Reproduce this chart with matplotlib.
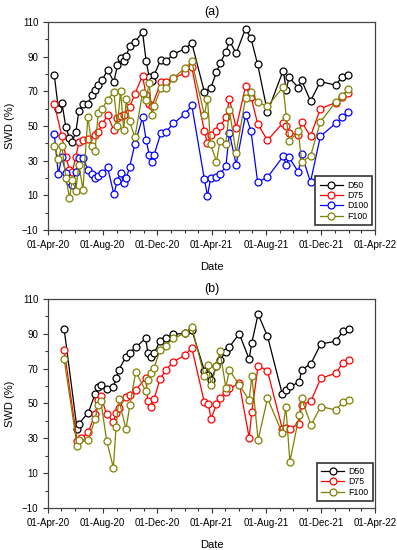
import matplotlib
matplotlib.use('Agg')
import matplotlib.pyplot as plt
import matplotlib.dates as mdates
from matplotlib.ticker import MultipleLocator
import pandas as pd

plt.rcParams['font.family'] = ['Liberation Sans', 'DejaVu Sans']

START = '2020-04-01'
END = '2022-04-01'

# ---------------- Panel (a) ----------------
# sampling day = days since 01-Apr-2020
a_d50_days = [14, 23, 31, 40, 48, 54, 62, 69, 78, 89, 98, 105, 112, 121, 133, 147, 155, 162, 169, 175,
              182, 194, 211, 219, 226, 232, 237, 252, 263, 280, 306, 321, 349, 363, 376, 384, 397, 405, 420, 441,
              453, 468, 490, 525, 532, 538, 559, 566, 586, 608, 642, 657, 670]
a_d50 = [79.6, 60, 63.3, 49.2, 43, 40.8, 46.5, 58.5, 62.7, 62.7, 67.7, 71, 73.5, 76.4, 82.5, 75.4, 85, 89.2, 87.7, 90.6,
         96, 98.5, 104.2, 87.7, 78, 76.1, 79.6, 88.3, 87.3, 91.5, 94.6, 97.9, 69.7, 71.7, 81, 86.2, 92.5, 99.2, 91.9, 106.2,
         100.6, 85.6, 58, 82, 70.9, 78.1, 72.1, 76.5, 64.4, 75.6, 73.6, 78.4, 79.6]

a_d75_days = [14, 31, 40, 48, 54, 62, 69, 78, 89, 105, 112, 121, 133, 147, 155, 162, 169, 182, 194, 211,
              219, 226, 232, 252, 263, 280, 306, 321, 349, 356, 363, 376, 384, 397, 405, 420, 441, 453, 468, 490,
              525, 532, 538, 559, 566, 586, 608, 642, 657, 670]
a_d75 = [62.9, 44, 32, 24.8, 23.5, 32, 40.8, 42.1, 42.7, 45, 46.5, 51.1, 56.2, 47.5, 54.6, 55.6, 56.5, 60.8, 68.5, 79,
         67.7, 62.7, 61.3, 75.4, 75.4, 77.7, 80.6, 83.9, 47, 40, 44.6, 47.3, 49.8, 55, 65.6, 48.8, 72.9, 67, 51.3, 41.7,
         52, 50, 46, 45, 52.5, 44, 60, 63.5, 66.5, 69]

a_d100_days = [14, 23, 31, 40, 48, 54, 62, 69, 78, 89, 98, 105, 112, 121, 133, 147, 155, 162, 169, 175,
               182, 194, 211, 219, 226, 232, 237, 252, 263, 280, 306, 321, 349, 356, 363, 376, 384, 397, 405, 420,
               441, 453, 468, 490, 525, 532, 538, 559, 566, 586, 608, 642, 657, 670]
a_d100 = [45.4, 22.5, 31.9, 23, 18, 16.1, 23.5, 31.5, 31.5, 24.8, 22.3, 20, 21, 22.9, 26.2, 10.8, 18.4, 22.9, 17.1, 20,
          26.2, 39.6, 55, 42.1, 33.4, 29.2, 33.4, 46, 46.5, 51.5, 56.9, 61.9, 19.4, 9.8, 19.8, 20.4, 22.3, 26.7, 46, 27.7,
          56.5, 47.3, 17.7, 20.4, 32.5, 27.7, 31.9, 23.5, 33.8, 17.7, 44, 51.5, 55, 57.9]

a_f100_days = [14, 23, 31, 40, 48, 54, 62, 69, 78, 89, 98, 105, 112, 121, 133, 147, 155, 162, 169, 175,
               182, 194, 211, 219, 226, 232, 237, 252, 263, 280, 306, 321, 349, 356, 363, 376, 384, 397, 405, 420,
               441, 453, 468, 490, 525, 532, 538, 559, 566, 586, 608, 642, 657, 670]
a_f100 = [38.6, 31.1, 38.6, 20, 8.4, 19, 12.7, 27.7, 13.2, 55.4, 38.6, 35.7, 57.3, 60, 65.2, 69.6, 49.8, 70.4, 47.9, 65.7,
          52.7, 43.5, 69, 65.2, 74.8, 56.5, 61.5, 71.9, 71.9, 77.7, 83.5, 87.3, 56.6, 65.7, 39.6, 29.5, 41.2, 39.8, 59, 34.3,
          66.1, 69.4, 63.6, 61.4, 72.5, 55, 41.1, 47, 29.5, 32.6, 52.3, 63.7, 67.5, 71.3]

# ---------------- Panel (b) ----------------
b_days = [36, 65, 69, 90, 105, 112, 118, 131, 146, 152, 158, 174, 183, 196, 218, 223, 230, 237, 250, 263,
          280, 306, 321, 349, 358, 364, 376, 384, 397, 405, 427, 449, 455, 469, 490, 523, 531, 540, 561, 566,
          587, 609, 642, 659, 671]
b_d50 = [92.8, 35.2, 38.4, 44.8, 55.3, 59.6, 60.6, 58.3, 59.6, 64.5, 69.2, 76.9, 79.2, 82.3, 87.4, 78.8, 76.5, 78.8, 85.9, 87.4,
         89.7, 90.3, 92.2, 68.9, 66.6, 63.4, 71.3, 75, 79.8, 82.5, 90, 75.5, 84.9, 101.2, 88.6, 55.4, 57.7, 59.9, 62.2, 69.2,
         72.9, 84.2, 85.7, 91.6, 92.7]
b_d75_days = [36, 65, 74, 90, 105, 112, 118, 131, 146, 152, 158, 174, 183, 196, 218, 223, 230, 237, 250, 263,
              280, 306, 321, 349, 358, 364, 376, 384, 397, 405, 427, 449, 455, 469, 490, 523, 531, 540, 561, 566,
              587, 609, 642, 659, 671]
b_d75 = [80.7, 28.5, 30, 33.5, 43.8, 52, 54.3, 43.8, 39.5, 44.4, 47.2, 53.9, 54.9, 57.8, 64.5, 51.4, 48.2, 52.6, 63.9, 69.2,
         74, 77.8, 82, 50.7, 49.6, 41.1, 49.5, 53.3, 56.4, 58.7, 61.6, 30.4, 45.3, 71.7, 68.7, 35.6, 36.2, 35.6, 38.4, 49.1,
         51.4, 64.5, 67.3, 73.4, 75]
b_f100 = [75.5, 25.7, 29, 29.2, 40.9, 49.1, 51.4, 28.5, 13.1, 36.7, 52.6, 35.2, 49.3, 68.3, 57.2, 63.5, 67.3, 70.5, 80.7, 83.2,
          87.4, 90.3, 94.1, 65.6, 72, 60.8, 71.6, 79.9, 59.1, 69.2, 60.6, 52, 65.9, 29, 53, 32.9, 48.2, 16.6, 43.4, 53,
          37.6, 48.2, 46.3, 50.7, 52]

colors = {'D50': 'black', 'D75': '#ff0000', 'D100': '#0000ff', 'F100': '#808000'}
ytick_vals = [-10, 10, 30, 50, 70, 90, 110]


def to_dates(days):
    return pd.Timestamp(START) + pd.to_timedelta(days, unit='D')


def style_axes(ax, title):
    ax.set_xlim(pd.Timestamp(START), pd.Timestamp(END))
    ax.set_ylim(-10, 110)
    ax.set_yticks(ytick_vals)
    ax.yaxis.set_minor_locator(MultipleLocator(10))
    ax.xaxis.set_major_locator(mdates.MonthLocator(bymonth=[4, 8, 12], bymonthday=1))
    ax.xaxis.set_minor_locator(mdates.MonthLocator())
    ax.xaxis.set_major_formatter(mdates.DateFormatter('%d-%b-%y'))
    ax.tick_params(which='major', direction='out', length=3.5, width=0.8, colors='#333333',
                   labelsize=7, labelcolor='black')
    ax.tick_params(which='minor', direction='out', length=2, width=0.8, colors='#333333')
    for s in ax.spines.values():
        s.set_color('#444444')
        s.set_linewidth(0.9)
    ax.set_xlabel('Date', fontsize=8)
    ax.set_ylabel('SWD (%)', fontsize=8)
    ax.yaxis.set_label_coords(-0.1, 0.5)
    ax.xaxis.set_label_coords(0.5, -0.155)
    ax.set_title(title, fontsize=9, pad=5)


def plot_series(ax, days, vals, name):
    ax.plot(to_dates(days), vals, color=colors[name], marker='o', markersize=5,
            markerfacecolor='white', markeredgecolor=colors[name], markeredgewidth=0.9,
            linewidth=0.9, label=name)


fig = plt.figure(figsize=(3.97, 5.5), dpi=100)
axA = fig.add_axes([0.1209, 0.5818, 0.8237, 0.3782])
axB = fig.add_axes([0.1209, 0.0764, 0.8237, 0.38])

plot_series(axA, a_d50_days, a_d50, 'D50')
plot_series(axA, a_d75_days, a_d75, 'D75')
plot_series(axA, a_d100_days, a_d100, 'D100')
plot_series(axA, a_f100_days, a_f100, 'F100')
style_axes(axA, '(a)')

plot_series(axB, b_days, b_d50, 'D50')
plot_series(axB, b_d75_days, b_d75, 'D75')
plot_series(axB, b_days, b_f100, 'F100')
style_axes(axB, '(b)')

for ax, anchor in [(axA, (0.992, 0.024)), (axB, (0.994, 0.033))]:
    leg = ax.legend(loc='lower right', bbox_to_anchor=anchor, borderaxespad=0, fontsize=6.3,
                    fancybox=False, edgecolor='#333333', handlelength=2.6, handletextpad=0.5,
                    labelspacing=0.15, borderpad=0.5, framealpha=1)
    leg.get_frame().set_linewidth(1.2)

fig.savefig('out.png', dpi=100)
